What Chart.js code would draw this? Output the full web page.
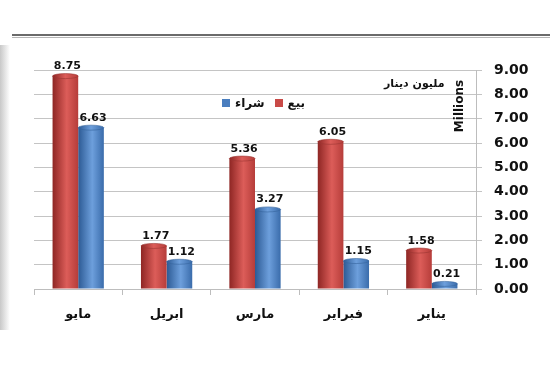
<!DOCTYPE html>
<html>
<head>
<meta charset="utf-8">
<script src="https://cdn.jsdelivr.net/npm/chart.js@4"></script>
<style>
  body { margin: 0; background: #fff; }
  #wrap { position: relative; width: 550px; height: 376px; overflow: hidden; }
  canvas { position: absolute; left: 0; top: 0; }
  .topline { position: absolute; left: 12px; top: 34px; width: 538px; height: 1px;
    border-top: 2px solid #6b6b6b; border-bottom: 1px solid #b5b5b5; }
  .leftshade { position: absolute; left: 0; top: 45px; width: 10px; height: 285px;
    background: linear-gradient(to right, #c8c8c8, #fff); }
  .legend { position: absolute; left: 222px; top: 96px; display: flex; align-items: center;
    font: bold 12px "DejaVu Sans", sans-serif; color: #111; direction: ltr; }
  .legend .sq { width: 8px; height: 8px; display: inline-block; margin-right: 5px; }
  .legend span.txt { margin-right: 10px; }
  .unit { position: absolute; left: 384px; top: 77px; font: bold 11px "DejaVu Sans", sans-serif; color: #111; }
  .millions { position: absolute; left: 431px; top: 99px; width: 56px; text-align: center;
    transform: rotate(-90deg); font: bold 12px "DejaVu Sans", sans-serif; color: #111; }
</style>
</head>
<body>
<div id="wrap">
  <div class="leftshade"></div>
  <div class="topline"></div>
  <canvas id="chart" width="550" height="376"></canvas>
  <div class="legend">
    <span class="sq" style="background:#4a7ebf"></span><span class="txt">شراء</span>
    <span class="sq" style="background:#c94a47"></span><span class="txt" style="margin-right:0">بيع</span>
  </div>
  <div class="unit">مليون دينار</div>
  <div class="millions">Millions</div>
</div>
<script>
// months, left to right as in the picture
const months = ['مايو', 'ابريل', 'مارس', 'فبراير', 'يناير']
const sellValues = [8.75, 1.77, 5.36, 6.05, 1.58]   // بيع
const buyValues = [6.63, 1.12, 3.27, 1.15, 0.21]    // شراء
const yTicks = [0, 1, 2, 3, 4, 5, 6, 7, 8, 9]

const CAT_PCT = 0.58

// cylinder-ish shading, built from the bar's own position on the x scale
function cylinder(stops, side) {
    return function (context) {
        const chart = context.chart
        const { ctx, chartArea } = chart
        if (!chartArea || !chart.scales.x) return stops[1]
        const xScale = chart.scales.x
        const center = xScale.getPixelForValue(context.dataIndex)
        const catW = chartArea.width / months.length
        const barW = catW * CAT_PCT / 2
        const left = side === 0 ? center - barW : center
        const g = ctx.createLinearGradient(left, 0, left + barW, 0)
        g.addColorStop(0, stops[0])
        g.addColorStop(0.55, stops[1])
        g.addColorStop(1, stops[2])
        return g
    }
}

const redStops = ['#8e2624', '#dc5d59', '#b63d3a']
const blueStops = ['#2c5a94', '#6d9fdc', '#3a6cab']

// ellipse caps on top of the bars + the value labels
const barDecor = {
    id: 'barDecor',
    afterDatasetsDraw(chart) {
        const ctx = chart.ctx
        ctx.save()
        chart.data.datasets.forEach((ds, di) => {
            const meta = chart.getDatasetMeta(di)
            const stops = di === 0 ? redStops : blueStops
            meta.data.forEach((el, i) => {
                const w = el.width
                const g = ctx.createLinearGradient(el.x - w / 2, 0, el.x + w / 2, 0)
                g.addColorStop(0, stops[0])
                g.addColorStop(0.5, stops[1])
                g.addColorStop(1, stops[2])
                ctx.beginPath()
                ctx.ellipse(el.x, el.y, w / 2, 2.5, 0, 0, Math.PI * 2)
                ctx.fillStyle = g
                ctx.fill()
                ctx.strokeStyle = di === 0 ? '#9c3533' : '#36649e'
                ctx.lineWidth = 0.6
                ctx.stroke()

                ctx.fillStyle = '#111'
                ctx.font = 'bold 11px "DejaVu Sans", sans-serif'
                ctx.textAlign = 'center'
                ctx.textBaseline = 'alphabetic'
                ctx.fillText(ds.data[i].toFixed(2), el.x + 2, el.y - 7)
            })
        })
        ctx.restore()
    }
}

new Chart(document.getElementById('chart'), {
    type: 'bar',
    data: {
        labels: months,
        datasets: [
            { label: 'بيع', data: sellValues, backgroundColor: cylinder(redStops, 0) },
            { label: 'شراء', data: buyValues, backgroundColor: cylinder(blueStops, 1) }
        ]
    },
    options: {
        responsive: false,
        animation: false,
        devicePixelRatio: 1,
        categoryPercentage: CAT_PCT,
        barPercentage: 1,
        layout: { padding: { top: 70, left: 34, right: 0, bottom: 0 } },
        plugins: {
            legend: { display: false },
            tooltip: { enabled: false }
        },
        scales: {
            x: {
                offset: true,
                grid: { display: true, drawOnChartArea: false, drawTicks: true, tickLength: 6, color: '#bdbdbd' },
                border: { display: true, color: '#bdbdbd' },
                ticks: {
                    color: '#111',
                    padding: 12,
                    font: { family: '"DejaVu Sans", sans-serif', size: 13, weight: 'bold' }
                },
                afterFit(scale) { scale.height = 87 }
            },
            y: {
                position: 'right',
                min: 0,
                max: 9,
                afterBuildTicks(scale) { scale.ticks = yTicks.map(v => ({ value: v })) },
                grid: { color: '#c4c4c4', tickLength: 6 },
                border: { display: true, color: '#bdbdbd' },
                ticks: {
                    color: '#111',
                    padding: 12,
                    font: { family: '"DejaVu Sans", sans-serif', size: 14, weight: 'bold' },
                    callback: v => v.toFixed(2)
                },
                afterFit(scale) { scale.width = 74 }
            }
        }
    },
    plugins: [barDecor]
})
</script>
</body>
</html>
